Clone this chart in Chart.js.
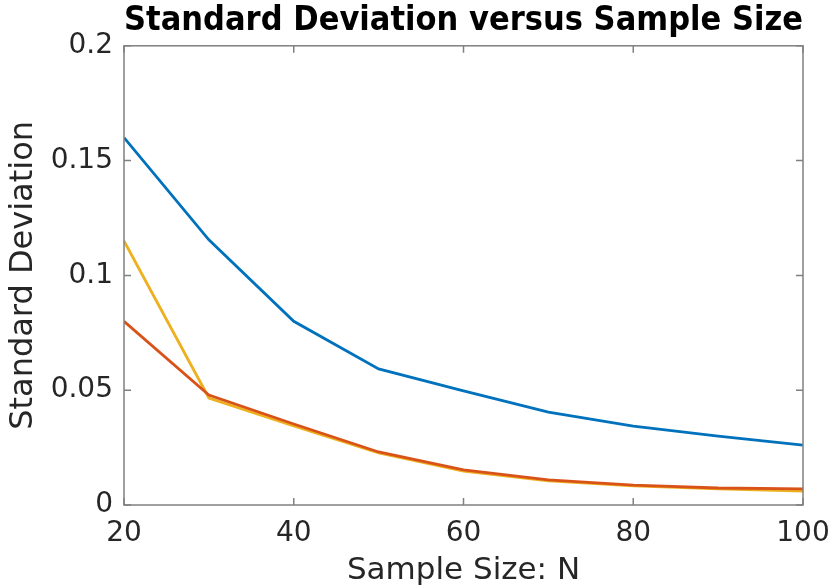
<!DOCTYPE html>
<html>
<head>
<meta charset="utf-8">
<script src="https://cdn.jsdelivr.net/npm/chart.js@4/dist/chart.umd.min.js"></script>
<style>
	html, body { margin: 0; padding: 0; background: #fff; }
	#wrap { width: 833px; height: 586px; }
</style>
</head>
<body>
<div id="wrap"><canvas id="sdChart" width="833" height="586"></canvas></div>
<script>
const sampleSizes = [20, 30, 40, 50, 60, 70, 80, 90, 100];
const sdBlue   = [0.160, 0.1155, 0.080, 0.0593, 0.0497, 0.0405, 0.0344, 0.030, 0.0261];
const sdRed    = [0.080, 0.0479, 0.0353, 0.0231, 0.0153, 0.0109, 0.0087, 0.0074, 0.0070];
const sdYellow = [0.115, 0.0466, 0.0344, 0.0227, 0.0148, 0.0105, 0.0083, 0.0070, 0.0060];
const xTicks = [20, 40, 60, 80, 100];
const yTicks = [0, 0.05, 0.1, 0.15, 0.2];

const fontFamily = '"DejaVu Sans", sans-serif';
const textColor = '#262626';
const axisColor = '#808080';

const toPoints = values => values.map((v, i) => ({ x: sampleSizes[i], y: v }));

// box around the plot with ticks pointing inwards, like matlab
const boxAxes = {
	id: 'boxAxes',
	afterDatasetsDraw(chart) {
		const { ctx, chartArea: a, scales } = chart;
		const len = 7;
		ctx.save();
		ctx.strokeStyle = axisColor;
		ctx.lineWidth = 1.5;
		ctx.strokeRect(a.left, a.top, a.right - a.left, a.bottom - a.top);
		ctx.beginPath();
		xTicks.forEach(t => {
			const px = scales.x.getPixelForValue(t);
			ctx.moveTo(px, a.bottom); ctx.lineTo(px, a.bottom - len);
			ctx.moveTo(px, a.top); ctx.lineTo(px, a.top + len);
		});
		yTicks.forEach(t => {
			const py = scales.y.getPixelForValue(t);
			ctx.moveTo(a.left, py); ctx.lineTo(a.left + len, py);
			ctx.moveTo(a.right, py); ctx.lineTo(a.right - len, py);
		});
		ctx.stroke();
		ctx.restore();
	}
};

const line = (values, color) => ({
	data: toPoints(values),
	borderColor: color,
	backgroundColor: color,
	borderWidth: 2.8,
	pointRadius: 0,
	tension: 0,
	fill: false,
});

new Chart(document.getElementById('sdChart'), {
	type: 'line',
	data: {
		datasets: [
			line(sdBlue, '#0072BD'),
			line(sdRed, '#D95319'),
			line(sdYellow, '#EDB120'),
		]
	},
	options: {
		responsive: false,
		animation: false,
		devicePixelRatio: 1,
		layout: { padding: { left: 0, right: 30, top: 0, bottom: 0 } },
		plugins: {
			legend: { display: false },
			tooltip: { enabled: false },
			title: {
				display: true,
				fullSize: false,
				text: 'Standard Deviation versus Sample Size',
				color: '#000',
				font: { family: fontFamily, size: 34, weight: 'bold', lineHeight: 1.2 },
				padding: { top: 1, bottom: 4 },
			},
		},
		scales: {
			x: {
				type: 'linear',
				min: 20,
				max: 100,
				afterBuildTicks: scale => { scale.ticks = xTicks.map(v => ({ value: v })); },
				afterFit: scale => { scale.height = 81; scale.paddingRight = 0; },
				grid: { display: false, drawTicks: false },
				border: { display: false },
				ticks: {
					color: textColor,
					padding: 12,
					maxRotation: 0,
					font: { family: fontFamily, size: 28 },
				},
				title: {
					display: true,
					text: 'Sample Size: N',
					color: textColor,
					font: { family: fontFamily, size: 31, lineHeight: 1 },
					padding: { top: 0, bottom: 0 },
				},
			},
			y: {
				type: 'linear',
				min: 0,
				max: 0.2,
				afterBuildTicks: scale => { scale.ticks = yTicks.map(v => ({ value: v })); },
				afterFit: scale => { scale.width = 124; },
				grid: { display: false, drawTicks: false },
				border: { display: false },
				ticks: {
					color: textColor,
					padding: 11,
					font: { family: fontFamily, size: 28 },
					callback: v => String(v),
				},
				title: {
					display: true,
					text: 'Standard Deviation',
					color: textColor,
					font: { family: fontFamily, size: 32, lineHeight: 1 },
					padding: { top: 8, bottom: 0 },
				},
			},
		},
	},
	plugins: [boxAxes],
});
</script>
</body>
</html>
